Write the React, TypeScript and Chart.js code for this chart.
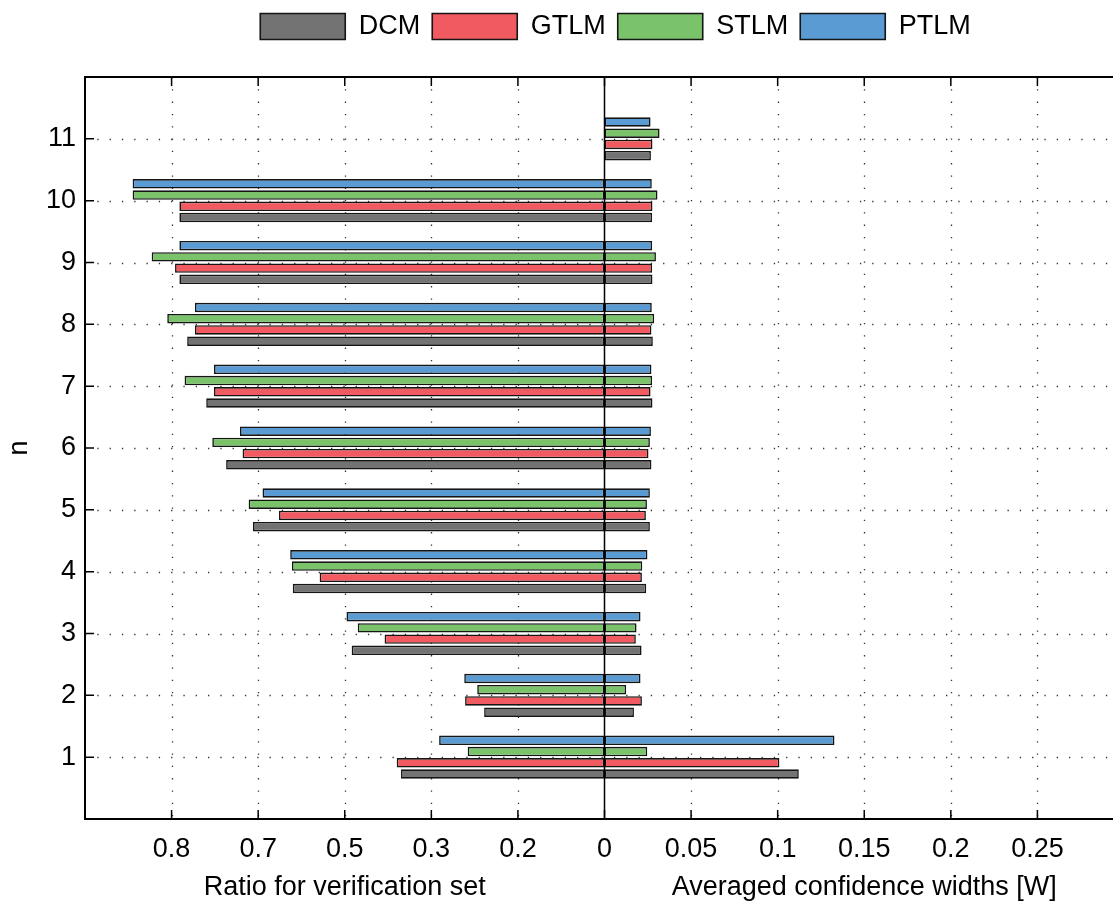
import { useEffect, useRef } from 'react';
import { Chart, registerables } from 'chart.js';

Chart.register(...registerables);

const nValues = [1, 2, 3, 4, 5, 6, 7, 8, 9, 10, 11];
const seriesNames = ['DCM', 'GTLM', 'STLM', 'PTLM'];
const seriesColors = ['#737373', '#F15A60', '#7AC36A', '#5A9BD4'];

// Ratio for verification set (left side), null = no bar
const ratioDCM = [0.37, 0.239, 0.484, 0.62, 0.706, 0.737, 0.76, 0.782, 0.791, 0.791, null];
const ratioGTLM = [0.38, 0.261, 0.408, 0.558, 0.652, 0.718, 0.751, 0.773, 0.796, 0.791, null];
const ratioSTLM = [0.258, 0.247, 0.47, 0.622, 0.711, 0.753, 0.785, 0.805, 0.823, 0.845, null];
const ratioPTLM = [0.291, 0.262, 0.496, 0.626, 0.69, 0.721, 0.751, 0.773, 0.791, 0.845, null];

// Averaged confidence widths [W] (right side)
const widthDCM = [0.1122, 0.017, 0.0214, 0.0241, 0.0262, 0.0271, 0.0277, 0.0279, 0.0277, 0.0275, 0.0268];
const widthGTLM = [0.101, 0.0216, 0.0181, 0.0216, 0.0239, 0.0254, 0.0266, 0.0271, 0.0275, 0.0277, 0.0277];
const widthSTLM = [0.0247, 0.0125, 0.0185, 0.0218, 0.0245, 0.0262, 0.0275, 0.0287, 0.0297, 0.0306, 0.0318];
const widthPTLM = [0.1328, 0.0208, 0.0208, 0.0248, 0.0262, 0.0268, 0.0271, 0.0273, 0.0275, 0.0273, 0.0266];

const ratioSeries = [ratioDCM, ratioGTLM, ratioSTLM, ratioPTLM];
const widthSeries = [widthDCM, widthGTLM, widthSTLM, widthPTLM];

// Left axis tick labels (ratio) at successive steps left of zero
const leftTickRatios = [0, 0.2, 0.3, 0.5, 0.7, 0.8];
const leftTickLabels = ['0', '0.2', '0.3', '0.5', '0.7', '0.8'];
// Right axis tick labels (widths)
const rightTickLabels = ['0', '0.05', '0.1', '0.15', '0.2', '0.25'];
const yTickLabels = ['1', '2', '3', '4', '5', '6', '7', '8', '9', '10', '11'];

const xTitleLeft = 'Ratio for verification set';
const xTitleRight = 'Averaged confidence widths [W]';
const yTitle = 'n';

const STEP = 0.05;
const X_MIN = -0.3;
const X_MAX = 0.3;
const FONT = '"Liberation Sans", Arial, Helvetica, sans-serif';
const FS = 27;

function ratioToAxis(r: number): number {
  const last = leftTickRatios.length - 1;
  for (let k = 1; k <= last; k++) {
    if (r <= leftTickRatios[k] || k === last) {
      const r0 = leftTickRatios[k - 1];
      const r1 = leftTickRatios[k];
      const t = k - 1 + (r - r0) / (r1 - r0);
      return -t * STEP;
    }
  }
  return 0;
}

const legendShiftPlugin = {
  id: 'legendShift',
  afterLayout(chart: any) {
    const lg = chart.legend;
    if (lg) {
      lg.left += 11;
      lg.right += 11;
    }
  },
};

const framePlugin = {
  id: 'matlabFrame',
  beforeDatasetsDraw(chart: any) {
    const { ctx, chartArea: a, scales } = chart;
    const xs = scales.x;
    const ys = scales.y;
    ctx.save();
    ctx.strokeStyle = '#333';
    ctx.lineWidth = 1.3;
    ctx.setLineDash([1.3, 11]);
    for (let k = -5; k <= 5; k++) {
      if (k === 0) continue;
      const px = Math.round(xs.getPixelForValue(k * STEP)) + 0.5;
      ctx.beginPath();
      ctx.moveTo(px, a.top);
      ctx.lineTo(px, a.bottom);
      ctx.stroke();
    }
    for (const n of nValues) {
      const py = Math.round(ys.getPixelForValue(n)) + 0.5;
      ctx.beginPath();
      ctx.moveTo(a.left, py);
      ctx.lineTo(a.right, py);
      ctx.stroke();
    }
    ctx.restore();
  },
  afterDatasetsDraw(chart: any) {
    const { ctx, chartArea: a, scales } = chart;
    const xs = scales.x;
    const ys = scales.y;
    ctx.save();
    // zero line
    const x0 = xs.getPixelForValue(0);
    ctx.strokeStyle = '#000';
    ctx.lineWidth = 1.5;
    ctx.beginPath();
    ctx.moveTo(x0, a.top);
    ctx.lineTo(x0, a.bottom);
    ctx.stroke();
    // inner ticks
    const TL = 9;
    ctx.lineWidth = 1.5;
    for (let k = -5; k <= 5; k++) {
      const px = xs.getPixelForValue(k * STEP);
      ctx.beginPath();
      ctx.moveTo(px, a.bottom);
      ctx.lineTo(px, a.bottom - TL);
      ctx.moveTo(px, a.top);
      ctx.lineTo(px, a.top + TL);
      ctx.stroke();
    }
    for (const n of nValues) {
      const py = ys.getPixelForValue(n);
      ctx.beginPath();
      ctx.moveTo(a.left, py);
      ctx.lineTo(a.left + TL, py);
      ctx.moveTo(a.right, py);
      ctx.lineTo(a.right - TL, py);
      ctx.stroke();
    }
    // frame
    ctx.lineWidth = 2;
    ctx.strokeRect(a.left, a.top, a.right - a.left, a.bottom - a.top);
    // axis titles
    ctx.fillStyle = '#000';
    ctx.font = `${FS}px ${FONT}`;
    ctx.textAlign = 'center';
    ctx.textBaseline = 'middle';
    const ty = 888;
    const xl = xs.getPixelForValue(X_MIN);
    const xr = xs.getPixelForValue(X_MAX);
    ctx.fillText(xTitleLeft, (xl + x0) / 2, ty);
    ctx.fillText(xTitleRight, (x0 + xr) / 2, ty);
    ctx.translate(20, (a.top + a.bottom) / 2);
    ctx.rotate(-Math.PI / 2);
    ctx.fillText(yTitle, 0, 0);
    ctx.restore();
  },
};

export default function App() {
  const canvasRef = useRef<HTMLCanvasElement | null>(null);

  useEffect(() => {
    if (!canvasRef.current) return;
    const order = [3, 2, 1, 0]; // top-to-bottom within each group: PTLM, STLM, GTLM, DCM
    const datasets: any[] = [];
    for (const s of order) {
      const common = {
        stack: seriesNames[s],
        backgroundColor: seriesColors[s],
        borderColor: '#151515',
        borderWidth: 1.6,
        borderSkipped: false,
        categoryPercentage: 0.726,
        barPercentage: 0.84,
      };
      datasets.push({
        ...common,
        label: seriesNames[s] + ' ratio',
        data: nValues
          .map((n, i) => ({ n, r: ratioSeries[s][i] }))
          .filter((d) => d.r !== null)
          .map((d) => ({ x: ratioToAxis(d.r as number), y: d.n })),
      });
      datasets.push({
        ...common,
        label: seriesNames[s],
        data: nValues.map((n, i) => ({ x: widthSeries[s][i], y: n })),
      });
    }

    const chart = new Chart(canvasRef.current, {
      type: 'bar',
      data: { datasets },
      plugins: [legendShiftPlugin, framePlugin],
      options: {
        indexAxis: 'y',
        responsive: false,
        animation: false,
        layout: { padding: { top: 1, right: 16, left: 0, bottom: 0 } },
        scales: {
          x: {
            type: 'linear',
            position: 'bottom',
            stacked: true,
            min: X_MIN,
            max: X_MAX,
            grid: { display: false, drawTicks: false },
            border: { display: false },
            ticks: {
              stepSize: STEP,
              autoSkip: false,
              maxRotation: 0,
              padding: 14,
              color: '#000',
              font: { size: FS, family: FONT },
              callback: (value: any) => {
                const k = Math.round(Number(value) / STEP);
                if (k < 0 && -k < leftTickLabels.length) return leftTickLabels[-k];
                if (k >= 0 && k < rightTickLabels.length) return rightTickLabels[k];
                return '';
              },
            },
            afterFit: (s: any) => {
              s.height = 84;
            },
          },
          xTop: {
            type: 'linear',
            position: 'top',
            display: true,
            grid: { display: false, drawTicks: false },
            border: { display: false },
            ticks: { display: false },
            afterFit: (s: any) => {
              s.height = 27;
            },
          },
          y: {
            type: 'linear',
            min: 0,
            max: 12,
            offset: false,
            grid: { display: false, drawTicks: false, offset: false },
            border: { display: false },
            ticks: {
              stepSize: 1,
              autoSkip: false,
              padding: 9,
              color: '#000',
              font: { size: FS, family: FONT },
              callback: (value: any) => {
                const v = Math.round(Number(value));
                return v >= 1 && v <= yTickLabels.length ? yTickLabels[v - 1] : '';
              },
            },
            afterFit: (s: any) => {
              s.width = 85;
            },
          },
        },
        plugins: {
          tooltip: { enabled: false },
          legend: {
            position: 'top',
            fullSize: false,
            reverse: true,
            labels: {
              filter: (item: any) => item.datasetIndex % 2 === 1,
              boxWidth: 85,
              boxHeight: 26,
              padding: 12,
              color: '#000',
              font: { size: FS, family: FONT },
            },
          },
        },
      } as any,
    });
    return () => chart.destroy();
  }, []);

  return (
    <div
      style={{
        position: 'fixed',
        left: 0,
        top: 0,
        width: 1113,
        height: 903,
        overflow: 'hidden',
        background: '#fff',
      }}
    >
      <canvas ref={canvasRef} width={1140} height={903} style={{ display: 'block' }} />
    </div>
  );
}
